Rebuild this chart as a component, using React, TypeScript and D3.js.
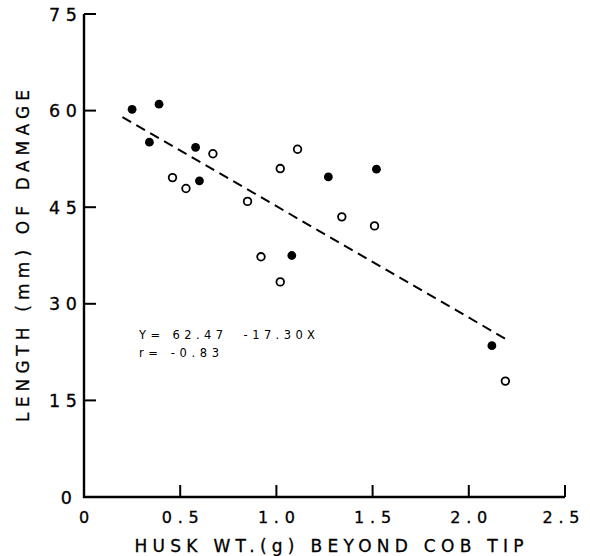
import React from "react";
import * as d3 from "d3";

const filledX = [0.25, 0.34, 0.39, 0.58, 0.6, 1.08, 1.27, 1.52, 2.12];
const filledY = [60.2, 55.1, 61.0, 54.3, 49.1, 37.5, 49.7, 50.9, 23.5];
const openX = [0.46, 0.53, 0.67, 0.85, 0.92, 1.02, 1.02, 1.11, 1.34, 1.51, 2.19];
const openY = [49.6, 47.9, 53.3, 45.9, 37.3, 33.4, 51.0, 54.0, 43.5, 42.1, 18.0];
const fitLine: [number, number][] = [
  [0.2, 59.0],
  [2.2, 24.4],
];
const xTicks = [0, 0.5, 1.0, 1.5, 2.0, 2.5];
const xTickLabels = ["0", "0.5", "1.0", "1.5", "2.0", "2.5"];
const yTicks = [0, 15, 30, 45, 60, 75];
const yTickLabels = ["0", "15", "30", "45", "60", "75"];
const xTitle = "HUSK WT.(g) BEYOND COB TIP";
const yTitle = "LENGTH (mm) OF DAMAGE";
const eqText = "Y= 62.47  -17.30X";
const rText = "r= -0.83";

const W = 590;
const H = 556;
const X0 = 84;
const X1 = 565;
const Y0 = 497;
const Y1 = 14;
const FONT = "'DejaVu Sans', Verdana, sans-serif";

export default function App() {
  const x = d3.scaleLinear().domain([0, 2.5]).range([X0, X1]);
  const y = d3.scaleLinear().domain([0, 75]).range([Y0, Y1]);
  const line = d3
    .line<[number, number]>()
    .x((d) => x(d[0]))
    .y((d) => y(d[1]));
  const tickLen = 12;

  return (
    <svg
      width={W}
      height={H}
      style={{ position: "absolute", left: 0, top: 0, background: "#fff" }}
      fontFamily={FONT}
    >
      <rect width={W} height={H} fill="#fff" />
      <path
        d={`M${X0},${Y1} V${Y0} H${X1}`}
        fill="none"
        stroke="#000"
        strokeWidth={2.4}
      />
      {yTicks.map((t) =>
        t === 0 ? null : (
          <line
            key={"yt" + t}
            x1={X0}
            x2={X0 + tickLen}
            y1={y(t)}
            y2={y(t)}
            stroke="#000"
            strokeWidth={2}
          />
        )
      )}
      {xTicks.map((t) =>
        t === 0 ? null : (
          <line
            key={"xt" + t}
            x1={x(t)}
            x2={x(t)}
            y1={Y0}
            y2={Y0 - tickLen}
            stroke="#000"
            strokeWidth={2}
          />
        )
      )}
      {yTickLabels.map((lab, i) => (
        <text
          key={"yl" + i}
          x={lab.length === 1 ? 72 : 77}
          y={y(yTicks[i]) + 6.5}
          textAnchor="end"
          fontSize={17.5}
          textLength={lab.length === 1 ? 11 : 28}
          lengthAdjust="spacing"
          stroke="#000"
          strokeWidth={0.3}
        >
          {lab}
        </text>
      ))}
      {xTickLabels.map((lab, i) => (
        <text
          key={"xl" + i}
          x={i === 5 ? x(xTicks[i]) - 4 : x(xTicks[i])}
          y={523}
          textAnchor="middle"
          fontSize={16}
          textLength={lab.length === 1 ? 10 : 37}
          lengthAdjust="spacing"
          stroke="#000"
          strokeWidth={0.3}
        >
          {lab}
        </text>
      ))}
      <text
        x={329}
        y={552}
        textAnchor="middle"
        fontSize={17}
        textLength={389}
        lengthAdjust="spacing"
        stroke="#000"
        strokeWidth={0.3}
      >
        {xTitle}
      </text>
      <text
        transform={`translate(29,256) rotate(-90)`}
        textAnchor="middle"
        fontSize={17}
        textLength={332}
        lengthAdjust="spacing"
        stroke="#000"
        strokeWidth={0.3}
      >
        {yTitle}
      </text>
      <path
        d={line(fitLine) || ""}
        fill="none"
        stroke="#000"
        strokeWidth={2}
        strokeDasharray="10 6"
      />
      {openX.map((v, i) => (
        <circle
          key={"o" + i}
          cx={x(v)}
          cy={y(openY[i])}
          r={3.8}
          fill="#fff"
          stroke="#000"
          strokeWidth={1.8}
        />
      ))}
      {filledX.map((v, i) => (
        <circle key={"f" + i} cx={x(v)} cy={y(filledY[i])} r={4.4} fill="#000" />
      ))}
      <text
        x={139}
        y={339}
        fontSize={11.5}
        textLength={176}
        lengthAdjust="spacing"
        style={{ whiteSpace: "pre" }}
      >
        {eqText}
      </text>
      <text
        x={139}
        y={357}
        fontSize={11.5}
        textLength={80}
        lengthAdjust="spacing"
        style={{ whiteSpace: "pre" }}
      >
        {rText}
      </text>
    </svg>
  );
}
